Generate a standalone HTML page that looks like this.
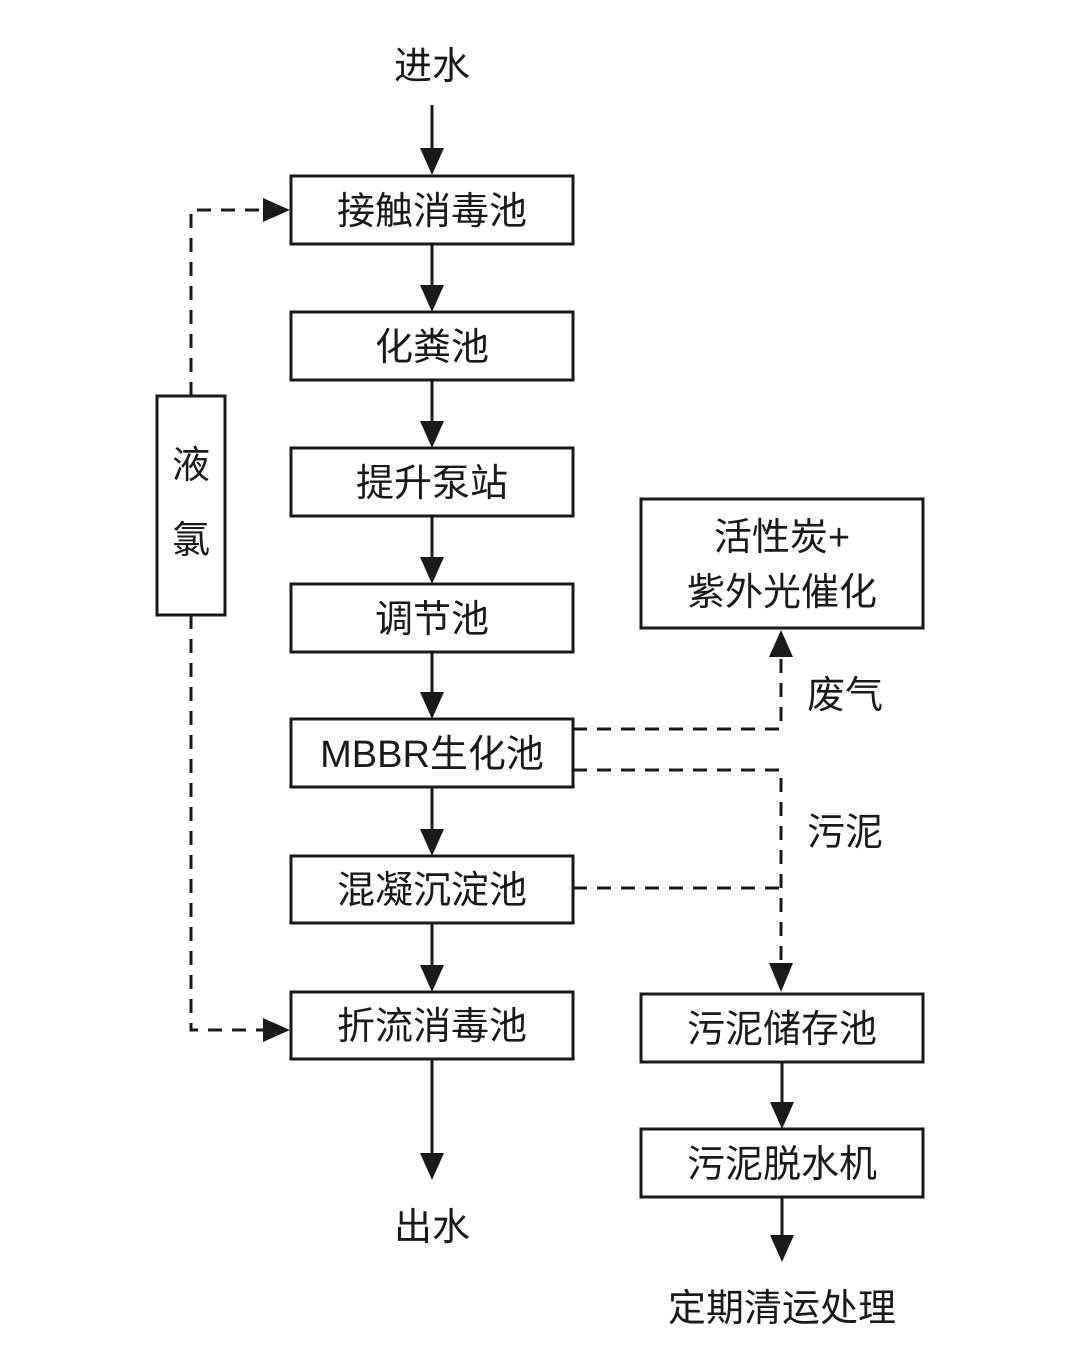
<!DOCTYPE html>
<html><head><meta charset="utf-8"><style>
html,body{margin:0;padding:0;background:#fff;}
svg text{font-family:"Liberation Sans","Noto Sans CJK SC",sans-serif;fill:#1a1a1a;}
</style></head><body>
<svg width="1080" height="1358" viewBox="0 0 1080 1358" xmlns="http://www.w3.org/2000/svg">
<defs>
<marker id="a" markerWidth="10" markerHeight="10" refX="9" refY="5" orient="auto" markerUnits="userSpaceOnUse" viewBox="0 0 10 10">
</marker>
</defs>
<g stroke="#1a1a1a" stroke-width="3" fill="#fff">
<rect x="291" y="176" width="282" height="68"/>
<rect x="291" y="312" width="282" height="68"/>
<rect x="291" y="448" width="282" height="68"/>
<rect x="291" y="584" width="282" height="68"/>
<rect x="291" y="719" width="282" height="68"/>
<rect x="291" y="856" width="282" height="67"/>
<rect x="291" y="992" width="282" height="67"/>
<rect x="157" y="396" width="68" height="219"/>
<rect x="641" y="499" width="282" height="129"/>
<rect x="641" y="994" width="282" height="68"/>
<rect x="641" y="1129" width="282" height="68"/>
</g>
<g stroke="#1a1a1a" stroke-width="3" fill="none">
<line x1="432" y1="105" x2="432" y2="150"/>
<line x1="432" y1="244" x2="432" y2="287"/>
<line x1="432" y1="380" x2="432" y2="423"/>
<line x1="432" y1="516" x2="432" y2="559"/>
<line x1="432" y1="652" x2="432" y2="694"/>
<line x1="432" y1="787" x2="432" y2="831"/>
<line x1="432" y1="923" x2="432" y2="967"/>
<line x1="432" y1="1059" x2="432" y2="1155"/>
<line x1="782" y1="1062" x2="782" y2="1104"/>
<line x1="782" y1="1197" x2="782" y2="1237"/>
</g>
<g stroke="#1a1a1a" stroke-width="3" fill="none" stroke-dasharray="14,10">
<polyline points="191,396 191,210 265,210"/>
<polyline points="191,615 191,1030 265,1030"/>
<polyline points="573,729 781,729 781,655"/>
<polyline points="573,770 781,770 781,965"/>
<line x1="573" y1="888" x2="781" y2="888"/>
</g>
<g fill="#1a1a1a">
<polygon points="420,148 444,148 432,175"/>
<polygon points="420,285 444,285 432,312"/>
<polygon points="420,421 444,421 432,448"/>
<polygon points="420,557 444,557 432,584"/>
<polygon points="420,692 444,692 432,719"/>
<polygon points="420,829 444,829 432,856"/>
<polygon points="420,965 444,965 432,992"/>
<polygon points="420,1153 444,1153 432,1180"/>
<polygon points="770,1102 794,1102 782,1129"/>
<polygon points="770,1235 794,1235 782,1262"/>
<polygon points="263,198 263,222 290,210"/>
<polygon points="263,1018 263,1042 290,1030"/>
<polygon points="769,657 793,657 781,630"/>
<polygon points="769,963 793,963 781,992"/>
</g>
<g font-size="38" text-anchor="middle">
<text x="432" y="79">进水</text>
<text x="432" y="224">接触消毒池</text>
<text x="432" y="360">化粪池</text>
<text x="432" y="496">提升泵站</text>
<text x="432" y="632">调节池</text>
<text x="432" y="767">MBBR生化池</text>
<text x="432" y="903">混凝沉淀池</text>
<text x="432" y="1039">折流消毒池</text>
<text x="432" y="1240">出水</text>
<text x="191" y="478">液</text>
<text x="191" y="553">氯</text>
<text x="782" y="550">活性炭+</text>
<text x="782" y="605">紫外光催化</text>
<text x="845" y="708">废气</text>
<text x="845" y="845">污泥</text>
<text x="782" y="1042">污泥储存池</text>
<text x="782" y="1177">污泥脱水机</text>
<text x="782" y="1321">定期清运处理</text>
</g>
</svg>
</body></html>
